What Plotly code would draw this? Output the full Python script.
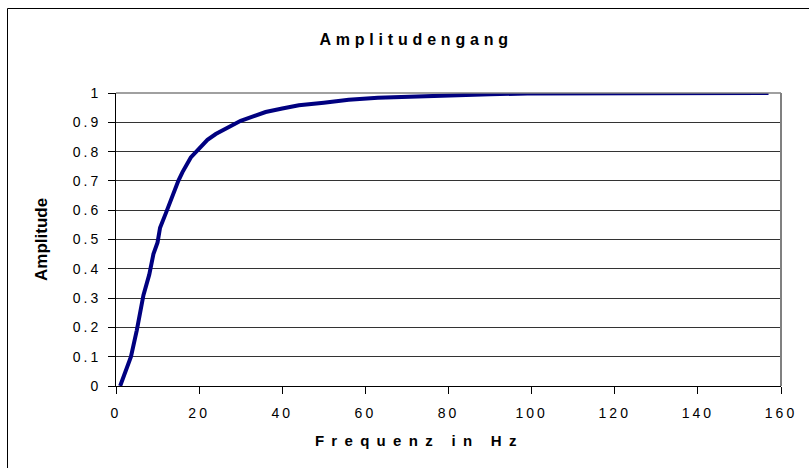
"""Amplitudengang (Frequenzgang) chart recreated with Plotly."""

import plotly.graph_objects as go

# Data
freq_hz = [1, 2, 3, 3.6, 5, 6, 6.6, 8, 9, 10, 10.6, 12, 13, 14, 15, 16, 18,
           20, 22, 24, 26, 28, 30, 32, 36, 40, 44, 50, 56, 63, 70, 80, 90,
           99, 110, 130, 145, 157]
amplitude = [0.0, 0.04, 0.08, 0.10, 0.19, 0.26, 0.31, 0.38, 0.45, 0.49, 0.54,
             0.59, 0.63, 0.67, 0.70, 0.73, 0.78, 0.81, 0.84, 0.86, 0.875,
             0.89, 0.905, 0.915, 0.935, 0.947, 0.958, 0.967, 0.977, 0.984,
             0.988, 0.993, 0.996, 0.998, 0.999, 1.0, 1.0, 1.0]

x_ticks = list(range(0, 161, 20))
y_ticks = [round(i * 0.1, 1) for i in range(11)]

W, H = 809, 468
L, R, T, B = 116, 28, 93, 82
PW, PH = W - L - R, H - T - B


def px_x(x):
    """page pixel x -> paper coordinate"""
    return (x - L) / PW


def px_y(y):
    """page pixel y -> paper coordinate"""
    return (H - B - y) / PH


fig = go.Figure()

fig.add_trace(go.Scatter(
    x=freq_hz,
    y=amplitude,
    mode='lines',
    line=dict(color='#000080', width=4),
    showlegend=False,
    hoverinfo='skip',
))

font_family = 'Liberation Sans, Arial, sans-serif'

fig.update_layout(
    width=W,
    height=H,
    margin=dict(l=L, r=R, t=T, b=B),
    paper_bgcolor='white',
    plot_bgcolor='white',
    font=dict(family=font_family, size=14, color='black'),
    xaxis=dict(
        range=[0, 160],
        tickmode='array',
        tickvals=x_ticks,
        ticks='outside',
        ticklen=7,
        tickcolor='black',
        ticklabelstandoff=7,
        showline=True,
        linecolor='black',
        linewidth=1,
        showgrid=False,
        zeroline=False,
        tickfont=dict(size=14),
    ),
    yaxis=dict(
        range=[0, 1],
        tickmode='array',
        tickvals=y_ticks,
        ticktext=[f'{v:g}' for v in y_ticks],
        ticks='outside',
        ticklen=7,
        tickcolor='black',
        ticklabelstandoff=4,
        showline=True,
        linecolor='black',
        linewidth=1,
        showgrid=True,
        gridcolor='#333333',
        gridwidth=1,
        zeroline=False,
        tickfont=dict(size=14),
    ),
    shapes=[
        # grey border on top and right of the plot area
        dict(type='line', xref='paper', yref='paper', x0=0, x1=1, y0=1, y1=1,
             line=dict(color='#808080', width=1.5)),
        dict(type='line', xref='paper', yref='paper', x0=1, x1=1, y0=0, y1=1,
             line=dict(color='#808080', width=2)),
        # outer chart frame (only left and top edges are inside the picture)
        dict(type='line', xref='paper', yref='paper',
             x0=px_x(7.5), x1=px_x(7.5), y0=px_y(480), y1=px_y(8.5),
             line=dict(color='black', width=1)),
        dict(type='line', xref='paper', yref='paper',
             x0=px_x(7.5), x1=px_x(820), y0=px_y(8.5), y1=px_y(8.5),
             line=dict(color='black', width=1)),
    ],
    annotations=[
        dict(text='<b>Amplitudengang</b>', xref='paper', yref='paper',
             x=px_x(416), y=px_y(40),
             xanchor='center', yanchor='middle', showarrow=False,
             font=dict(size=16)),
        dict(text='<b>Frequenz in Hz</b>', xref='paper', yref='paper',
             x=px_x(419), y=px_y(440),
             xanchor='center', yanchor='middle', showarrow=False,
             font=dict(size=15)),
        dict(text='<b>Amplitude</b>', xref='paper', yref='paper',
             x=px_x(41), y=px_y(240), textangle=-90,
             xanchor='center', yanchor='middle', showarrow=False,
             font=dict(size=17)),
    ],
)

# Excel-style wide letter spacing and no page margin
post = """
document.body.style.margin = '0';
document.querySelectorAll('.xtick text, .ytick text').forEach(function (t) {
    t.style.letterSpacing = '3px';
});
var ann = document.querySelectorAll('.annotation-text');
if (ann.length > 1) {
    ann[0].style.letterSpacing = '4.8px';
    ann[1].style.letterSpacing = '7.3px';
}
"""

fig.write_html("out.html", post_script=post, config={'displayModeBar': False})
